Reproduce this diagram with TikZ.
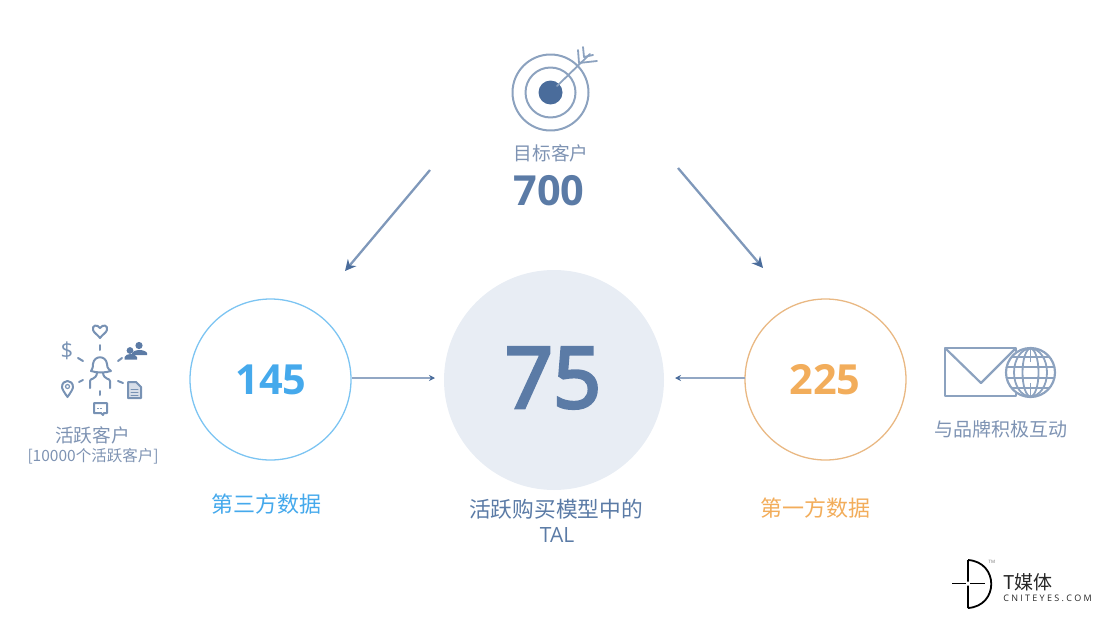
\documentclass[tikz,border=0pt]{standalone}
\usepackage{fontspec}
\setmainfont{Open Sans}
\newfontfamily\cjk{Noto Sans CJK SC}
\newfontfamily\num{Open Sans}
\newfontfamily\numsemi[FakeBold=4]{Open Sans}
\definecolor{steel}{HTML}{5B7BA6}
\definecolor{steeldark}{HTML}{4A6C9B}
\definecolor{icon}{HTML}{8CA2BF}
\definecolor{lab}{HTML}{7E93B3}
\definecolor{sky}{HTML}{45A9EC}
\definecolor{skyline}{HTML}{7CC4F2}
\definecolor{orange}{HTML}{F2AD5B}
\definecolor{orangeline}{HTML}{E9B883}
\definecolor{pale}{HTML}{E8EDF4}
\definecolor{arrowc}{HTML}{7F98BA}
\usetikzlibrary{arrows.meta}
\tikzset{
  x=1pt,y=-1pt,
  txt/.style={inner sep=0pt,align=center},
  bignum/.style={txt,font=\num\bfseries\fontsize{41.5}{41.5}\selectfont},
  ringnode/.style={circle,draw,line width=1.3pt,inner sep=0pt,minimum size=161pt},
  bigarrow/.style={draw=arrowc,line width=2.3pt,-{Stealth[length=11pt,width=11pt,color=steeldark]}},
  smallarrow/.style={draw=arrowc!85,line width=1.3pt,-{Stealth[length=6pt,width=6pt,color=steeldark]}},
  ic/.style={draw=icon,line width=1.8pt,line cap=round,line join=round},
  pic1/.style={draw=icon!70!steeldark,line width=2pt,line cap=round,line join=round},
  mailic/.style={draw=icon,line width=2.2pt,line join=round},
  globeic/.style={draw=icon,line width=1.8pt},
  peoplefill/.style={fill=steeldark!90,draw=none},
}
\begin{document}
\begin{tikzpicture}
\useasboundingbox (0,0) rectangle (1102,618);
% circles
\node[circle,fill=pale,inner sep=0pt,minimum size=220pt] (mid) at (554,380) {};
\node[ringnode,draw=skyline] (left) at (270.5,379.5) {};
\node[ringnode,draw=orangeline] (right) at (825.5,379.5) {};
% numbers
\node[txt,text=steel,font=\numsemi\fontsize{84}{84}\selectfont] (n75) at (553,378) {75};
\node[bignum,text=sky] (n145) at (271,380) {145};
\node[bignum,text=orange] (n225) at (825,380) {225};
\node[bignum,text=steel] (n700) at (549,191) {700};
% labels
\node[txt,text=lab,font=\cjk\fontsize{18.7}{18.7}\selectfont] (t1) at (551,153) {目标客户};
\node[txt,text=sky,font=\cjk\fontsize{22}{22}\selectfont] (t2) at (266,504) {第三方数据};
\node[txt,text=orange,font=\cjk\fontsize{22}{22}\selectfont] (t3) at (815,508) {第一方数据};
\node[txt,text=steel,font=\cjk\fontsize{21.7}{21.7}\selectfont] (t4) at (556,509) {活跃购买模型中的};
\node[txt,text=steel,font=\num\fontsize{21}{21}\selectfont] (t5) at (557,535) {TAL};
\node[txt,text=lab,font=\cjk\fontsize{18.7}{18.7}\selectfont] (t6) at (92.5,435) {活跃客户};
\node[txt,text=lab,font=\cjk\fontsize{15.5}{15.5}\selectfont] (t7) at (93,456) {[10000个活跃客户]};
\node[txt,text=lab,font=\cjk\fontsize{19}{19}\selectfont] (t8) at (1001,429) {与品牌积极互动};
% arrows
\coordinate (a1s) at (430,170); \coordinate (a1e) at (345,271);
\coordinate (a2s) at (678,168); \coordinate (a2e) at (763,268);
\coordinate (a3s) at (352,378); \coordinate (a3e) at (435,378);
\coordinate (a4s) at (745,378); \coordinate (a4e) at (675,378);
\draw[bigarrow] (a1s) -- (a1e);
\draw[bigarrow] (a2s) -- (a2e);
\draw[smallarrow] (a3s) -- (a3e);
\draw[smallarrow] (a4s) -- (a4e);
% target icon
\draw[ic,line width=2pt] (550.5,92.5) circle (38);
\draw[ic,line width=2pt] (550.5,92.5) circle (25);
\fill[steeldark] (550.5,92.5) circle (12);
\draw[ic] (557,86) -- (590,54);
\draw[ic] (578,50) -- (579,63) -- (597,61);
\draw[ic] (583,47) -- (584,57) -- (593,55);
% person icon
\begin{scope}[pic1]
\draw (100,328) .. controls (97,324) and (92,325) .. (93,330) .. controls (94,333) and (98,335) .. (100,338) .. controls (102,335) and (106,333) .. (107,330) .. controls (108,325) and (103,324) .. (100,328) -- cycle;
\draw (100,345) -- (100,350);
\draw (78,358) -- (83,361);
\draw (118,361) -- (122,358);
\draw (79,382) -- (83,380);
\draw (118,381) -- (123,383);
\draw (100,391) -- (100,395);
% person
\draw (91,371) .. controls (93,368) and (93,366) .. (93,364) .. controls (94,355) and (106,355) .. (107,364) .. controls (107,366) and (107,368) .. (111,371) .. controls (105,373) and (97,373) .. (91,371) -- cycle;
\draw (90,388) -- (90,381) .. controls (90,378) and (96,380) .. (97,373);
\draw (110,388) -- (110,381) .. controls (110,378) and (104,380) .. (103,373);
% pin
\draw (67.5,397) .. controls (64,392) and (62,389) .. (62,387) .. controls (62,379) and (73,379) .. (73,387) .. controls (73,389) and (71,392) .. (67.5,397) -- cycle;
\draw[line width=1.2pt] (67.5,386.5) circle (2);
% chat
\draw (94,403) -- (107,403) -- (107,413) -- (104,413) -- (103,415) -- (101,413) -- (94,413) -- cycle;
\draw[line width=1pt,dotted] (97.5,408) -- (103.5,408);
% doc
\draw[fill=icon!35] (128,382) -- (136,382) -- (141,387) -- (141,398) -- (128,398) -- cycle;
\draw[line width=1pt] (131,389) -- (138,389) (131,392) -- (138,392) (131,395) -- (138,395);
\end{scope}
\node[txt,text=icon!70!steeldark,font=\num\fontsize{22}{22}\selectfont] (dollar) at (67,351) {\$};
\fill[peoplefill] (139,345.5) circle (3.6) (130,350.5) circle (3.4);
\fill[peoplefill] (132,355) -- (132,353.5) .. controls (133,349) and (145,349) .. (147,353) -- (147,355) -- cycle;
\fill[peoplefill] (124.5,359.5) -- (124.5,357) .. controls (126,353) and (135,353) .. (137,357) -- (137,359.5) -- cycle;
% mail icon
\draw[mailic] (945,348) rectangle (1016,396);
\draw[mailic] (945,348) -- (981,383) -- (1016,348);
\fill[white] (1030.5,372.5) circle (25.5);
\draw[mailic] (1030.5,372.5) circle (24.5);
\begin{scope}[globeic]
\draw (1030.5,372.5) ellipse (16.5 and 24);
\draw (1030.5,372.5) ellipse (8 and 24);
\draw (1030.5,348) -- (1030.5,362) (1030.5,383) -- (1030.5,397);
\draw (1006.5,367) -- (1054.5,367) (1006.5,378) -- (1054.5,378);
\draw (1012,357) -- (1049,357) (1012,388) -- (1049,388);
\end{scope}
% logo
\draw[black,line width=1.8pt] (968,560) -- (968,581.5) (968,585.5) -- (968,608) (968,560) .. controls (999,562) and (999,606) .. (968,608);
\draw[black,line width=1.6pt] (952,583.5) -- (966,583.5) (970,583.5) -- (985,583.5);
\node[txt,text=black!85,font=\cjk\fontsize{19}{19}\selectfont] (lg) at (1028,582) {T媒体};
\node[txt,text=black!85,font=\num\fontsize{9}{9}\selectfont] (lg2) at (1047.5,598) {C\hspace{2.3pt}N\hspace{2.3pt}I\hspace{2.3pt}T\hspace{2.3pt}E\hspace{2.3pt}Y\hspace{2.3pt}E\hspace{2.3pt}S\hspace{2.3pt}.\hspace{2.3pt}C\hspace{2.3pt}O\hspace{2.3pt}M};
\node[txt,text=black!55,font=\num\fontsize{4.5}{4.5}\selectfont] (tm) at (992,562) {TM};
\end{tikzpicture}
\end{document}
